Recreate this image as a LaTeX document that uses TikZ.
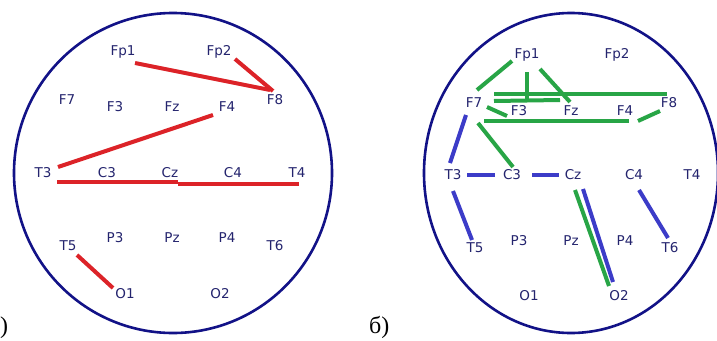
\documentclass[tikz,border=0pt]{standalone}
\usepackage{fontspec}
\setmainfont{Liberation Serif}
\newfontfamily\elfont{DejaVu Sans}
\usetikzlibrary{calc}
\definecolor{labcol}{RGB}{36,36,110}
\definecolor{headcol}{RGB}{18,18,135}
\definecolor{redl}{RGB}{220,35,40}
\definecolor{greenl}{RGB}{40,165,70}
\definecolor{bluel}{RGB}{60,60,200}
\tikzset{
  el/.style={inner sep=0pt, text=labcol, font=\elfont\fontsize{13.5}{14}\selectfont},
  head/.style={draw=headcol, line width=2.6pt},
  redc/.style={draw=redl, line width=4pt},
  greenc/.style={draw=greenl, line width=4pt},
  bluec/.style={draw=bluel, line width=4pt},
  tag/.style={inner sep=0pt, font=\fontsize{24}{26}\selectfont}
}
\begin{document}
\begin{tikzpicture}[x=1pt,y=-1pt]
\useasboundingbox (0,0) rectangle (717,340);
\fill[white] (0,0) rectangle (717,340);
% heads
\draw[head] (173,173) ellipse [x radius=159, y radius=160];
\draw[head] (571,173) ellipse [x radius=147, y radius=160];
% left panel electrodes
\foreach \n/\x/\y in {Fp1/123/52, Fp2/219/52, F7/67/100, F3/115/107, Fz/172/107, F4/227/107, F8/275/100,
  T3/43/173, C3/107/173, Cz/170/173, C4/233/173, T4/297/173,
  T5/68/246, P3/115/238, Pz/172/238, P4/227/238, T6/275/246, O1/125/294, O2/220/294}
  \node[el] (a\n) at (\x,\y) {\n};
% right panel electrodes
\foreach \n/\x/\y in {Fp1/527/55, Fp2/617/55, F7/474/103, F3/519/111, Fz/571/111, F4/625/111, F8/669/103,
  T3/453/175, C3/512/175, Cz/573/175, C4/634/175, T4/692/175,
  T5/475/248, P3/519/241, Pz/571/241, P4/625/241, T6/670/248, O1/529/296, O2/619/296}
  \node[el] (b\n) at (\x,\y) {\n};
% tags
\node[tag, anchor=base west] (ta) at (0,333) {)};
\node[tag, anchor=base west] (tb) at (369,333) {б)};
% red connectors
\draw[redc] ($(aFp1)+(12,11)$) -- ($(aF8)+(-5,-10)$);
\draw[redc] ($(aFp2)+(16,7)$) -- ($(aF8)+(-2,-9)$);
\draw[redc] ($(aF4)+(-14,8)$) -- ($(aT3)+(15,-6)$);
\draw[redc] ($(aT3)+(14,9)$) -- ($(aCz)+(8,9)$);
\draw[redc] ($(aCz)+(8,11)$) -- ($(aT4)+(2,11)$);
\draw[redc] ($(aT5)+(9,9)$) -- ($(aO1)+(-12,-6)$);
% green connectors
\draw[greenc] ($(bFp1)+(-15,6)$) -- ($(bF7)+(3,-13)$);
\draw[greenc] ($(bFp1)+(0,17)$) -- ($(bF3)+(8,-9)$);
\draw[greenc] ($(bFp1)+(13,14)$) -- ($(bFz)+(-1,-9)$);
\draw[greenc] ($(bF7)+(20,-9)$) -- ($(bF8)+(-2,-9)$);
\draw[greenc] ($(bF7)+(20,-2)$) -- ($(bFz)+(-11,-11)$);
\draw[greenc] ($(bF7)+(13,4)$) -- ($(bF3)+(-12,5)$);
\draw[greenc] ($(bF7)+(10,18)$) -- ($(bF4)+(4,10)$);
\draw[greenc] ($(bF4)+(13,10)$) -- ($(bF8)+(-9,8)$);
\draw[greenc] ($(bF7)+(4,20)$) -- ($(bC3)+(1,-8)$);
\draw[greenc] ($(bCz)+(2,15)$) -- ($(bO2)+(-10,-10)$);
% blue connectors
\draw[bluec] ($(bF7)+(-8,12)$) -- ($(bT3)+(-3,-12)$);
\draw[bluec] ($(bT3)+(14,0)$) -- ($(bC3)+(-17,0)$);
\draw[bluec] ($(bC3)+(20,0)$) -- ($(bCz)+(-14,0)$);
\draw[bluec] ($(bT3)+(0,16)$) -- ($(bT5)+(-3,-8)$);
\draw[bluec] ($(bCz)+(10,14)$) -- ($(bO2)+(-6,-14)$);
\draw[bluec] ($(bC4)+(5,15)$) -- ($(bT6)+(-2,-10)$);
\end{tikzpicture}
\end{document}
